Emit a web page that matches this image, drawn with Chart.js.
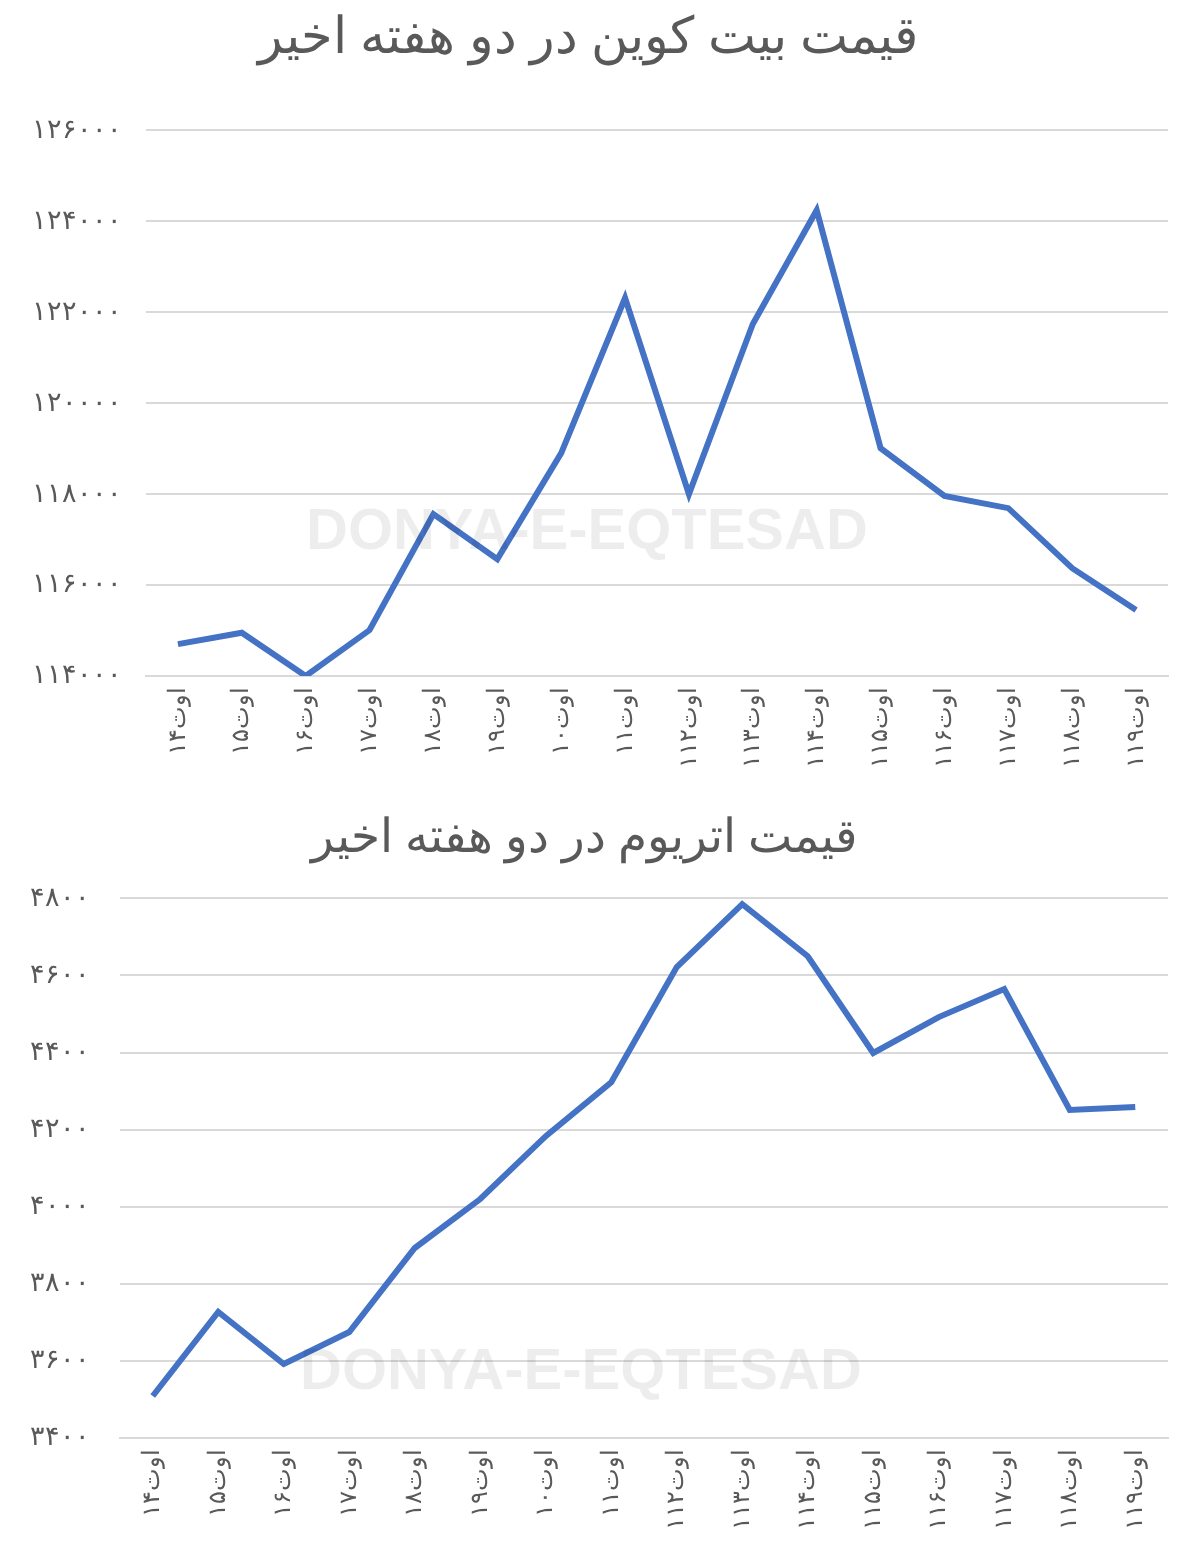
<!DOCTYPE html>
<html>
<head>
<meta charset="utf-8">
<script src="https://cdn.jsdelivr.net/npm/chart.js@4"></script>
<style>
  body { margin: 0; background: #fff; width: 1200px; height: 1559px; position: relative; overflow: hidden; }
  .box { position: absolute; left: 0; width: 1200px; }
  .wm { position: absolute; font-family: "Liberation Sans", Arial, sans-serif; font-weight: bold; font-size: 58px; color: rgba(0,0,0,0.07); }
</style>
</head>
<body>
<div class="box" style="top:0;height:795px"><canvas id="btc"></canvas></div>
<div class="box" style="top:800px;height:759px"><canvas id="eth"></canvas></div>
<div class="wm" style="left:306px;top:495px">DONYA-E-EQTESAD</div>
<div class="wm" style="left:300px;top:1335px">DONYA-E-EQTESAD</div>
<script>
const days = ['۱۴اوت', '۱۵اوت', '۱۶اوت', '۱۷اوت', '۱۸اوت', '۱۹اوت', '۱۰اوت', '۱۱اوت', '۱۱۲اوت', '۱۱۳اوت', '۱۱۴اوت', '۱۱۵اوت', '۱۱۶اوت', '۱۱۷اوت', '۱۱۸اوت', '۱۱۹اوت'];
const btcPrices = [114700, 114950, 114000, 115010, 117560, 116570, 118900, 122310, 118000, 121740, 124240, 119010, 117960, 117690, 116370, 115450];
const ethPrices = [3509, 3727, 3592, 3675, 3893, 4020, 4183, 4323, 4622, 4785, 4650, 4399, 4492, 4565, 4251, 4259];

function faDigits(n) {
    return String(n).replace(/\d/g, d => '۰۱۲۳۴۵۶۷۸۹'[d]);
}

function makeChart(id, title, data, min, max, step, titleSize, pad) {
    new Chart(document.getElementById(id), {
        type: 'line',
        data: {
            labels: days,
            datasets: [{
                data: data,
                borderColor: '#4472C4',
                borderWidth: 6,
                pointRadius: 0,
                tension: 0
            }]
        },
        options: {
            responsive: true,
            maintainAspectRatio: false,
            animation: false,
            layout: { padding: { left: pad.left, right: 32, top: pad.top, bottom: pad.bottom } },
            scales: {
                y: {
                    min: min, max: max,
                    ticks: { stepSize: step, color: '#595959', font: { size: 27 }, callback: v => faDigits(v), padding: pad.tick },
                    grid: { color: '#d9d9d9', lineWidth: 2, drawTicks: false },
                    border: { display: false }
                },
                x: {
                    offset: true,
                    ticks: { color: '#595959', font: { size: 24 }, minRotation: 90, maxRotation: 90 },
                    grid: { display: false, offset: true },
                    border: { color: '#d9d9d9', width: 2 }
                }
            },
            plugins: {
                legend: { display: false },
                tooltip: { enabled: false },
                title: { display: true, text: title, color: '#595959', font: { size: titleSize, family: 'Noto Sans', weight: 'normal' }, padding: { bottom: pad.title } }
            }
        }
    });
}

makeChart('btc', 'قیمت بیت کوین در دو هفته اخیر', btcPrices, 114000, 126000, 2000, 51, { left: 8, top: 8, bottom: 24, title: 61, tick: 24 });
makeChart('eth', 'قیمت اتریوم در دو هفته اخیر', ethPrices, 3400, 4800, 200, 47, { left: 0, top: 10, bottom: 26, title: 32, tick: 30 });
</script>
</body>
</html>
